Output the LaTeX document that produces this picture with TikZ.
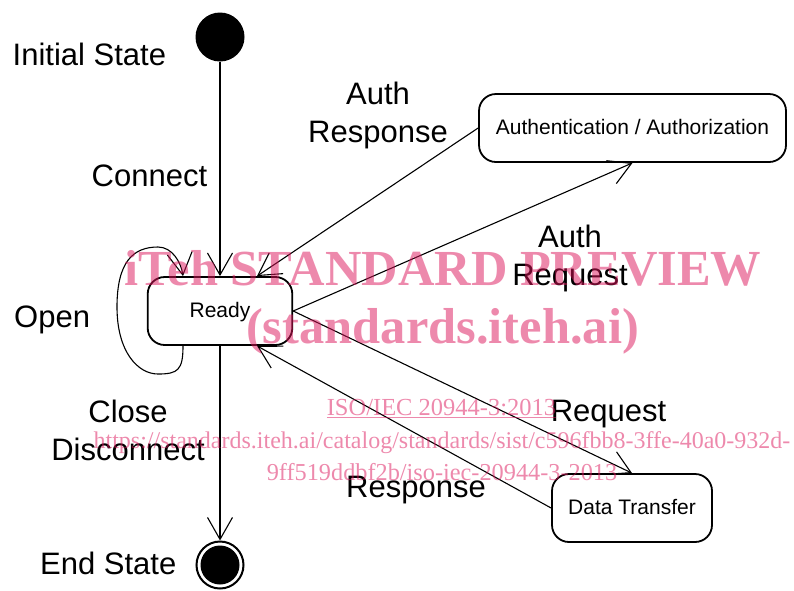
\documentclass[tikz,border=0pt]{standalone}
\usepackage{fontspec}
\setmainfont{Liberation Sans}
\newfontfamily\wmfont{Liberation Serif}
\usetikzlibrary{arrows.meta,calc}
\definecolor{wmpink}{RGB}{220,20,90}
\begin{document}
\begin{tikzpicture}[x=1pt,y=-1pt,
  statebox/.style={draw, line width=1.8pt, rounded corners=17pt, minimum height=68pt,
    inner sep=0pt, font=\fontsize{21}{25}\selectfont, text height=15pt, text depth=3pt},
  lbl/.style={font=\fontsize{31}{38}\selectfont, inner sep=0pt, align=center},
  conn/.style={line width=1.1pt, -{Straight Barb[length=22pt,width=25pt]}},
  wm/.style={text=wmpink, opacity=0.5, inner sep=0pt, align=center}]
\useasboundingbox (0,0) rectangle (794,590);

% states
\node[circle, fill=black, minimum size=49pt, inner sep=0pt] (init) at (220,37) {};
\node[statebox, minimum width=144.6pt] (ready) at (220,311) {Ready};
\node[statebox, minimum width=307pt] (auth) at (632.5,128) {Authentication / Authorization};
\node[statebox, minimum width=160pt] (data) at (632,508) {Data Transfer};
\node[circle, draw, line width=2pt, minimum size=47pt, inner sep=0pt] (endst) at (220,565) {};
\fill (endst.center) circle (19.5);

% helper coordinates on the Ready box
\coordinate (loopA) at ($(ready.south)+(-37,0)$);
\coordinate (loopB) at ($(ready.north)+(-37,0)$);
\coordinate (rtop) at ($(ready.north)+(37,0)$);
\coordinate (rbot) at ($(ready.south)+(37,0)$);

% connectors
\draw[conn] (init.south) -- (ready.north);
\draw[conn] (loopA) .. controls (183,370) and (178,374) .. (158,374)
  .. controls (138,374) and (117,352) .. (117,307)
  .. controls (117,262) and (133,247) .. (158,247)
  .. controls (172,247) and (181,262) .. (loopB);
\draw[conn] (auth.west) -- (rtop);
\draw[conn] (ready.east) -- (auth.south);
\draw[conn] (ready.east) -- (data.north);
\draw[conn] (data.west) -- (rbot);
\draw[conn] (ready.south) -- (endst.north);

% labels
\node[lbl, anchor=base west] (linit) at (12.5,65) {Initial State};
\node[lbl, anchor=base west] (lconnect) at (91.5,186) {Connect};
\node[lbl, anchor=base] (lauthresp) at (378,142) {Auth\\Response};
\node[lbl, anchor=base] (lauthreq) at (570,285) {Auth\\Request};
\node[lbl, anchor=base west] (lopen) at (14,327) {Open};
\node[lbl, anchor=base] (lclose) at (128,460) {Close\\Disconnect};
\node[lbl, anchor=base] (lreq) at (608.5,421.5) {Request};
\node[lbl, anchor=base] (lresp) at (416,497) {Response};
\node[lbl, anchor=base west] (lend) at (40,574) {End State};

% watermark
\node[wm, anchor=base, font=\wmfont\bfseries\fontsize{50.5}{58}\selectfont] (wm1) at (443,285) {iTeh STANDARD PREVIEW};
\node[wm, anchor=base, font=\wmfont\bfseries\fontsize{50.5}{58}\selectfont] (wm2) at (442.5,343) {(standards.iteh.ai)};
\node[wm, anchor=base, font=\wmfont\fontsize{24.5}{30}\selectfont] (wm3) at (441.5,415) {\underline{ISO/IEC 20944-3:2013}};
\node[wm, anchor=base, font=\wmfont\fontsize{24}{30}\selectfont] (wm4) at (442,448) {https://standards.iteh.ai/catalog/standards/sist/c596fbb8-3ffe-40a0-932d-};
\node[wm, anchor=base, font=\wmfont\fontsize{24.3}{30}\selectfont] (wm5) at (442,480) {9ff519ddbf2b/iso-iec-20944-3-2013};
\end{tikzpicture}
\end{document}
